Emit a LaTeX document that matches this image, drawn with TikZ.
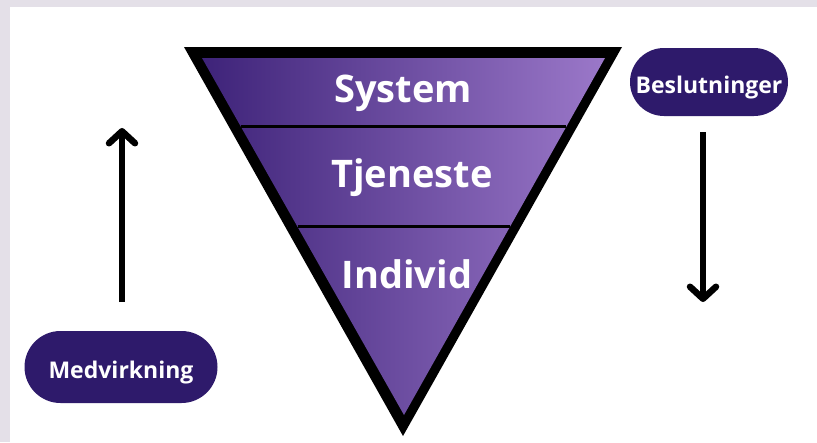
\documentclass[tikz,border=0pt]{standalone}
\usepackage{fontspec}
\setmainfont{Open Sans}
\usetikzlibrary{arrows.meta,calc}
\definecolor{bgl}{HTML}{E4E0E8}
\definecolor{pill}{HTML}{2E1A6B}
\definecolor{gl}{HTML}{3E2379}
\definecolor{gr}{HTML}{9B78C9}
\begin{document}
\begin{tikzpicture}[x=1pt,y=-1pt,
  pillbox/.style={fill=pill, text=white, font=\fontsize{23}{23}\selectfont\bfseries, inner sep=0pt, text height=22pt, text depth=0pt},
  levellabel/.style={text=white, font=\fontsize{38}{38}\selectfont\bfseries, inner sep=0pt, anchor=base},
  divider/.style={line width=3pt, black},
  flow/.style={line width=6.5pt, -{Straight Barb[length=12pt, width=26pt, line cap=round, line join=round]}}]
  \useasboundingbox (0,0) rectangle (817,442);
  \fill[bgl] (0,0) rectangle (817,442);
  \fill[white] (10,7) rectangle (817,442);
  % funnel
  \coordinate (O1) at (184,47);
  \coordinate (O2) at (622,47);
  \coordinate (O3) at (403,436);
  \coordinate (I1) at (202,58);
  \coordinate (I2) at (605,58);
  \coordinate (I3) at (404,415);
  \fill[black] (O1) -- (O2) -- (O3) -- cycle;
  \shade[left color=gl, right color=gr] (I1) -- (I2) -- (I3) -- cycle;
  \draw[divider] ($(I1)!0.193!(I3)$) -- ($(I2)!0.193!(I3)$);
  \draw[divider] ($(I1)!0.473!(I3)$) -- ($(I2)!0.473!(I3)$);
  \node[levellabel] (sys) at (403,102) {System};
  \node[levellabel] (tje) at (412,187) {Tjeneste};
  \node[levellabel] (ind) at (407,288) {Individ};
  % pills
  \node[pillbox, minimum width=158pt, minimum height=68pt, rounded corners=34pt] (besl) at (709,82) {Beslutninger};
  \node[pillbox, minimum width=193pt, minimum height=72pt, rounded corners=36pt] (medv) at (121,367) {Medvirkning};
  % arrows
  \coordinate (upS) at (122,302);
  \coordinate (upE) at (122,128);
  \coordinate (dnS) at (703,132);
  \coordinate (dnE) at (703,302);
  \draw[flow] (upS) -- (upE);
  \draw[flow] (dnS) -- (dnE);
\end{tikzpicture}
\end{document}
